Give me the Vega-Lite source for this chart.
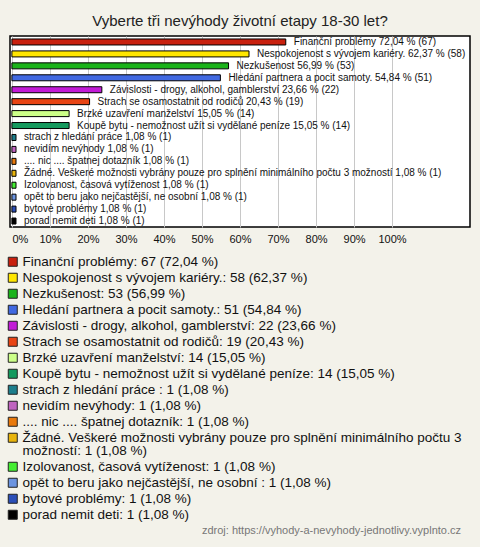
{
  "$schema": "https://vega.github.io/schema/vega-lite/v6.json",
  "width": 460,
  "height": 191,
  "autosize": {"type": "none"},
  "padding": {"left": 10, "top": 36, "right": 10, "bottom": 320},
  "background": "#f3f2ea",
  "title": {
    "text": "Vyberte tři nevýhody životní etapy 18-30 let?",
    "font": "Liberation Sans",
    "fontSize": 15,
    "fontWeight": "normal",
    "color": "#222222",
    "anchor": "middle",
    "offset": 7
  },
  "config": {
    "view": {"fill": "white", "stroke": "black", "strokeWidth": 1.5},
    "font": "Liberation Sans",
    "style": {"guide-label": {"lineHeight": 13.5}}
  },
  "data": {
    "values": [
      {"odpoved": "Finanční problémy", "pocet": 67, "procento": 72.04, "popisek": "Finanční problémy 72,04 % (67)", "legenda": "Finanční problémy: 67 (72,04 %)"},
      {"odpoved": "Nespokojenost s vývojem kariéry.", "pocet": 58, "procento": 62.37, "popisek": "Nespokojenost s vývojem kariéry. 62,37 % (58)", "legenda": "Nespokojenost s vývojem kariéry.: 58 (62,37 %)"},
      {"odpoved": "Nezkušenost", "pocet": 53, "procento": 56.99, "popisek": "Nezkušenost 56,99 % (53)", "legenda": "Nezkušenost: 53 (56,99 %)"},
      {"odpoved": "Hledání partnera a pocit samoty.", "pocet": 51, "procento": 54.84, "popisek": "Hledání partnera a pocit samoty. 54,84 % (51)", "legenda": "Hledání partnera a pocit samoty.: 51 (54,84 %)"},
      {"odpoved": "Závislosti - drogy, alkohol, gamblerství", "pocet": 22, "procento": 23.66, "popisek": "Závislosti - drogy, alkohol, gamblerství 23,66 % (22)", "legenda": "Závislosti - drogy, alkohol, gamblerství: 22 (23,66 %)"},
      {"odpoved": "Strach se osamostatnit od rodičů", "pocet": 19, "procento": 20.43, "popisek": "Strach se osamostatnit od rodičů 20,43 % (19)", "legenda": "Strach se osamostatnit od rodičů: 19 (20,43 %)"},
      {"odpoved": "Brzké uzavření manželství", "pocet": 14, "procento": 15.05, "popisek": "Brzké uzavření manželství 15,05 % (14)", "legenda": "Brzké uzavření manželství: 14 (15,05 %)"},
      {"odpoved": "Koupě bytu - nemožnost užít si vydělané peníze", "pocet": 14, "procento": 15.05, "popisek": "Koupě bytu - nemožnost užít si vydělané peníze 15,05 % (14)", "legenda": "Koupě bytu - nemožnost užít si vydělané peníze: 14 (15,05 %)"},
      {"odpoved": "strach z hledání práce ", "pocet": 1, "procento": 1.08, "popisek": "strach z hledání práce  1,08 % (1)", "legenda": "strach z hledání práce : 1 (1,08 %)"},
      {"odpoved": "nevidím nevýhody", "pocet": 1, "procento": 1.08, "popisek": "nevidím nevýhody 1,08 % (1)", "legenda": "nevidím nevýhody: 1 (1,08 %)"},
      {"odpoved": ".... nic .... špatnej dotazník", "pocet": 1, "procento": 1.08, "popisek": ".... nic .... špatnej dotazník 1,08 % (1)", "legenda": ".... nic .... špatnej dotazník: 1 (1,08 %)"},
      {"odpoved": "Žádné. Veškeré možnosti vybrány pouze pro splnění minimálního počtu 3 možností", "pocet": 1, "procento": 1.08, "popisek": "Žádné. Veškeré možnosti vybrány pouze pro splnění minimálního počtu 3 možností 1,08 % (1)", "legenda": "Žádné. Veškeré možnosti vybrány pouze pro splnění minimálního počtu 3 možností: 1 (1,08 %)"},
      {"odpoved": "Izolovanost, časová vytíženost", "pocet": 1, "procento": 1.08, "popisek": "Izolovanost, časová vytíženost 1,08 % (1)", "legenda": "Izolovanost, časová vytíženost: 1 (1,08 %)"},
      {"odpoved": "opět to beru jako nejčastější, ne osobní ", "pocet": 1, "procento": 1.08, "popisek": "opět to beru jako nejčastější, ne osobní  1,08 % (1)", "legenda": "opět to beru jako nejčastější, ne osobní : 1 (1,08 %)"},
      {"odpoved": "bytové problémy", "pocet": 1, "procento": 1.08, "popisek": "bytové problémy 1,08 % (1)", "legenda": "bytové problémy: 1 (1,08 %)"},
      {"odpoved": "porad nemit deti", "pocet": 1, "procento": 1.08, "popisek": "porad nemit deti 1,08 % (1)", "legenda": "porad nemit deti: 1 (1,08 %)"}
    ]
  },
  "encoding": {
    "y": {
      "field": "odpoved",
      "type": "nominal",
      "sort": null,
      "axis": null,
      "scale": {"paddingInner": 0, "paddingOuter": 0}
    },
    "x": {
      "field": "procento",
      "type": "quantitative",
      "scale": {"domain": [-0.5, 120.5], "nice": false, "zero": false},
      "axis": {
        "title": null,
        "values": [0, 10, 20, 30, 40, 50, 60, 70, 80, 90, 100],
        "labelExpr": "datum.value + '%'",
        "labelFontSize": 11,
        "labelColor": "#111111",
        "labelPadding": 6,
        "labelFlush": 4,
        "domain": false,
        "ticks": false,
        "grid": true,
        "gridColor": "#c8c8c8",
        "gridWidth": 1
      }
    }
  },
  "layer": [
    {
      "mark": {"type": "bar", "size": 6, "stroke": "black", "strokeWidth": 1},
      "encoding": {
        "x": {"field": "procento", "type": "quantitative"},
        "x2": {"datum": 0},
        "color": {
          "field": "legenda",
          "type": "nominal",
          "sort": null,
          "scale": {
            "range": ["#c8200e", "#ffe600", "#1ab31a", "#4169e1", "#c21bd6", "#e84414", "#ccff88", "#149a5e", "#1c7e8c", "#c064c0", "#e8790c", "#e8b40c", "#44ee33", "#6b94e0", "#2b4fb8", "#000000"]
          },
          "legend": {
            "orient": "none",
            "legendX": -4,
            "legendY": 219,
            "direction": "vertical",
            "columns": 1,
            "title": "zdroj: https://vyhody-a-nevyhody-jednotlivy.vyplnto.cz",
            "titleOrient": "bottom",
            "titleAnchor": "end",
            "titleFontSize": 11,
            "titleFontWeight": "normal",
            "titleColor": "#777777",
            "titleLimit": 480,
            "titlePadding": 4,
            "symbolType": "square",
            "symbolSize": 81,
            "symbolStrokeColor": "#222222",
            "symbolStrokeWidth": 1,
            "symbolOpacity": 1,
            "labelFontSize": 13.5,
            "labelColor": "#111111",
            "labelLimit": 470,
            "labelOffset": 3,
            "rowPadding": 1.0,
            "labelExpr": "datum.label == 'Žádné. Veškeré možnosti vybrány pouze pro splnění minimálního počtu 3 možností: 1 (1,08 %)' ? ['Žádné. Veškeré možnosti vybrány pouze pro splnění minimálního počtu 3', 'možností: 1 (1,08 %)'] : datum.label"
          }
        }
      }
    },
    {
      "mark": {"type": "text", "align": "left", "baseline": "middle", "dx": 8, "fontSize": 10, "color": "#111111"},
      "encoding": {
        "text": {"field": "popisek", "type": "nominal"}
      }
    }
  ]
}
